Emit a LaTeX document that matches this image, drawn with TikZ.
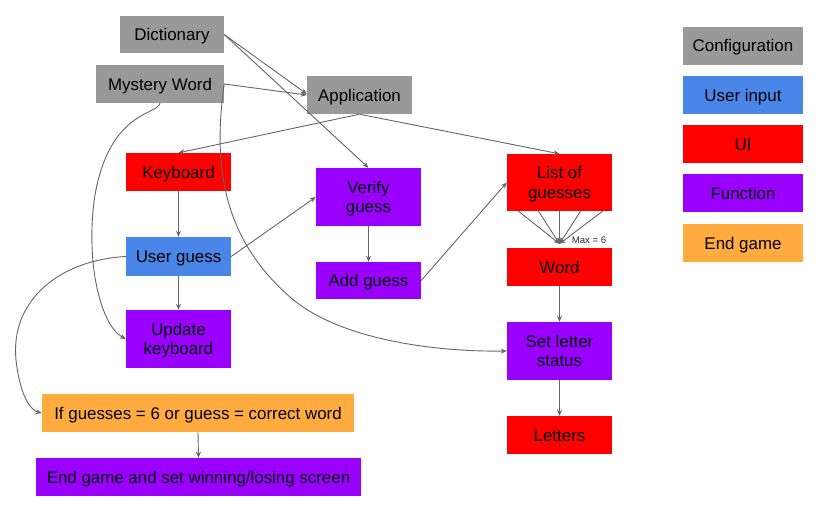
\documentclass[tikz,border=0pt]{standalone}
\usepackage{fontspec}
\setmainfont{Liberation Sans}
\usetikzlibrary{arrows.meta}
\definecolor{cfg}{HTML}{999999}
\definecolor{uin}{HTML}{4A86E8}
\definecolor{uic}{HTML}{FF0000}
\definecolor{fnc}{HTML}{9900FF}
\definecolor{endg}{HTML}{FFAB40}
\definecolor{linegray}{HTML}{666666}
\begin{document}
\begin{tikzpicture}[x=1pt,y=-1pt,
  box/.style={inner sep=0pt, minimum width=105pt, minimum height=38pt, align=center,
    text height=12.1pt, text depth=0pt,
    font=\fontsize{16.9}{19.5}\selectfont, text=black},
  twoline/.style={minimum height=58pt, text height=31.6pt, text depth=0pt},
  cfgbox/.style={box, fill=cfg},
  uinbox/.style={box, fill=uin},
  uibox/.style={box, fill=uic},
  fncbox/.style={box, fill=fnc},
  endbox/.style={box, fill=endg},
  conn/.style={draw=linegray, line width=0.9pt, -{Stealth[length=6pt,width=5pt]}}]
\useasboundingbox[fill=white] (0,0) rectangle (823,512);

% main nodes
\node[cfgbox, minimum width=104pt, minimum height=37pt] (dict) at (172,34.5) {Dictionary};
\node[cfgbox, minimum width=128pt] (mw) at (160,84) {Mystery Word};
\node[cfgbox] (app) at (359.5,95) {Application};
\node[uibox] (kb) at (178.5,172) {Keyboard};
\node[uinbox, minimum height=39pt] (ug) at (178.5,256.5) {User guess};
\node[fncbox, twoline] (uk) at (178.5,339) {Update\\keyboard};
\node[fncbox, twoline] (vg) at (368.5,197) {Verify\\guess};
\node[fncbox, minimum height=37pt] (ag) at (368.5,280.5) {Add guess};
\node[uibox, twoline, minimum height=57pt] (list) at (559.5,182.5) {List of\\guesses};
\node[uibox] (word) at (559.5,267) {Word};
\node[fncbox, twoline] (sls) at (559.5,351) {Set letter\\status};
\node[uibox] (let) at (559.5,435) {Letters};
\node[endbox, minimum width=312pt] (ifg) at (198,413) {If guesses = 6 or guess = correct word};
\node[fncbox, minimum width=325pt] (eg) at (198.5,477) {End game and set winning/losing screen};

% legend
\node[cfgbox, minimum width=120pt] (lcfg) at (743,45.5) {Configuration};
\node[uinbox, minimum width=120pt] (luin) at (743,95) {User input};
\node[uibox, minimum width=120pt] (lui) at (743,144) {UI};
\node[fncbox, minimum width=120pt] (lfn) at (743,193) {Function};
\node[endbox, minimum width=120pt] (leg) at (743,243) {End game};

% connectors
\draw[conn] (dict.east) -- ([yshift=1pt]app.west);
\draw[conn] (dict.east) -- (vg.north);
\draw[conn] (mw.east) -- (app.west);
\draw[conn] (app.south) -- (kb.north);
\draw[conn] (app.south) -- (list.north);
\draw[conn] (kb.south) -- (ug.north);
\draw[conn] (ug.south) -- (uk.north);
\draw[conn] (ug.east) -- (vg.west);
\draw[conn] (vg.south) -- (ag.north);
\draw[conn] (ag.east) -- (list.west);
\coordinate (conv) at ([yshift=4pt]word.north);
\foreach \dx in {-41,-21,0,21,43}
  \draw[conn] ([xshift=\dx pt]list.south) -- (conv);
\node[inner sep=0pt, font=\fontsize{9.6}{11}\selectfont, text=black!85] (max) at (589,240) {Max = 6};
\draw[conn] (word.south) -- (sls.north);
\draw[conn] (sls.south) -- (let.north);
\draw[conn] (ifg.south) -- (eg.north);

% curved connectors
\draw[conn] (mw.south) .. controls (158,115) and (110,110) .. (95,195)
  .. controls (85,260) and (100,325) .. (uk.west);
\draw[conn] (mw.east) .. controls (212,170) and (225,240) .. (290,297)
  .. controls (340,341) and (440,352) .. (sls.west);
\draw[conn] (ug.west) .. controls (60,260) and (10,300) .. (16,360)
  .. controls (20,395) and (30,410) .. (ifg.west);
\end{tikzpicture}
\end{document}
